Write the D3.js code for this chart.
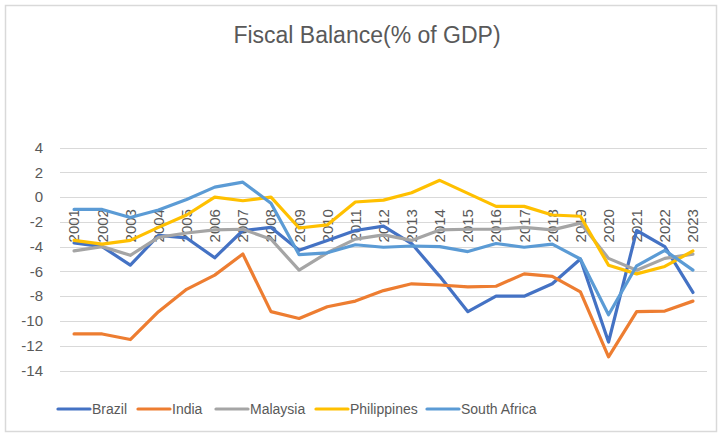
<!DOCTYPE html>
<html>
<head>
<meta charset="utf-8">
<script src="https://cdn.jsdelivr.net/npm/d3@7"></script>
<style>
  body { margin: 0; background: #fff; }
  svg { font-family: "Liberation Sans", Arial, sans-serif; }
</style>
</head>
<body>
<svg id="chart" width="722" height="437"></svg>
<script>
// years on the category axis
var years = ['2001', '2002', '2003', '2004', '2005', '2006', '2007', '2008', '2009', '2010', '2011', '2012',
             '2013', '2014', '2015', '2016', '2017', '2018', '2019', '2020', '2021', '2022', '2023'];

// fiscal balance, % of GDP
var brazil = [-3.7, -4.0, -5.5, -3.1, -3.3, -4.9, -2.7, -2.45, -4.3, -3.5, -2.7, -2.35,
              -3.75, -6.4, -9.25, -8.0, -8.0, -7.0, -5.0, -11.7, -2.7, -4.0, -7.7];
var india = [-11.05, -11.05, -11.5, -9.25, -7.45, -6.3, -4.6, -9.25, -9.8, -8.85, -8.4, -7.55,
             -7.0, -7.1, -7.25, -7.2, -6.2, -6.4, -7.65, -12.9, -9.25, -9.2, -8.4];
var malaysia = [-4.35, -4.0, -4.7, -3.25, -2.9, -2.65, -2.6, -3.4, -5.9, -4.5, -3.4, -3.05,
                -3.5, -2.65, -2.6, -2.6, -2.45, -2.65, -2.1, -4.95, -5.9, -4.95, -4.6];
var philippines = [-3.5, -3.8, -3.5, -2.45, -1.45, 0.0, -0.3, 0.0, -2.5, -2.25, -0.4, -0.25,
                   0.35, 1.35, 0.3, -0.75, -0.75, -1.45, -1.55, -5.5, -6.2, -5.6, -4.35];
var southAfrica = [-1.0, -1.0, -1.65, -1.05, -0.2, 0.8, 1.2, -0.5, -4.65, -4.5, -3.85, -4.05,
                   -3.95, -4.0, -4.4, -3.75, -4.05, -3.8, -5.0, -9.5, -5.55, -4.3, -5.9];

var seriesNames = ['Brazil', 'India', 'Malaysia', 'Philippines', 'South Africa'];
var seriesValues = [brazil, india, malaysia, philippines, southAfrica];
var seriesColors = ['#4472C4', '#ED7D31', '#A5A5A5', '#FFC000', '#5B9BD5'];

var yTicks = [-14, -12, -10, -8, -6, -4, -2, 0, 2, 4];

var svg = d3.select('#chart');
var textColor = '#595959';

// chart area border
svg.append('rect')
    .attr('x', 5.5).attr('y', 5.5)
    .attr('width', 711).attr('height', 426)
    .attr('fill', '#fff')
    .attr('stroke', '#d9d9d9')
    .attr('stroke-width', 1.5);

// title
svg.append('text')
    .attr('x', 367)
    .attr('y', 43)
    .attr('text-anchor', 'middle')
    .attr('font-size', 23)
    .attr('fill', textColor)
    .text('Fiscal Balance(% of GDP)');

var x = d3.scaleBand().domain(years).range([60, 707]);
var y = d3.scaleLinear().domain([-14, 4]).range([370.5, 147.5]);
var cx = function(d) { return x(d) + x.bandwidth() / 2; };

// horizontal gridlines
svg.append('g')
    .selectAll('line')
    .data(yTicks)
    .join('line')
    .attr('x1', 60).attr('x2', 707)
    .attr('y1', function(d) { return Math.round(y(d)) + 0.5; })
    .attr('y2', function(d) { return Math.round(y(d)) + 0.5; })
    .attr('stroke', '#d9d9d9')
    .attr('stroke-width', 1);

// value axis labels
var yAxis = d3.axisLeft(y).tickValues(yTicks).tickSize(0).tickPadding(17)
    .tickFormat(function(d) { return d < 0 ? '-' + Math.abs(d) : d; });
var gy = svg.append('g').attr('transform', 'translate(60,0)').call(yAxis);
gy.select('.domain').remove();
gy.selectAll('text').attr('font-size', 15).attr('fill', textColor)
    .attr('font-family', '"Liberation Sans", Arial, sans-serif');

// category labels, rotated, hanging below the zero line
svg.append('g')
    .selectAll('text')
    .data(years)
    .join('text')
    .attr('transform', function(d) { return 'translate(' + cx(d) + ',' + (y(0) + 12) + ') rotate(-90)'; })
    .attr('text-anchor', 'end')
    .attr('dy', '0.36em')
    .attr('font-size', 15)
    .attr('fill', textColor)
    .text(function(d) { return d; });

// series lines
var line = d3.line()
    .x(function(d, i) { return cx(years[i]); })
    .y(function(d) { return y(d); });

svg.append('g')
    .selectAll('path')
    .data(seriesValues)
    .join('path')
    .attr('d', line)
    .attr('fill', 'none')
    .attr('stroke', function(d, i) { return seriesColors[i]; })
    .attr('stroke-width', 3.2)
    .attr('stroke-linejoin', 'round')
    .attr('stroke-linecap', 'round');

// legend
var legendX = [58, 138, 216, 316, 427];
var legend = svg.append('g')
    .selectAll('g')
    .data(seriesNames)
    .join('g')
    .attr('transform', function(d, i) { return 'translate(' + legendX[i] + ',409)'; });

legend.append('line')
    .attr('x1', 0).attr('x2', 32)
    .attr('stroke', function(d, i) { return seriesColors[i]; })
    .attr('stroke-width', 3.2)
    .attr('stroke-linecap', 'round');

legend.append('text')
    .attr('x', 34)
    .attr('dy', '0.36em')
    .attr('font-size', 14)
    .attr('fill', textColor)
    .text(function(d) { return d; });
</script>
</body>
</html>
